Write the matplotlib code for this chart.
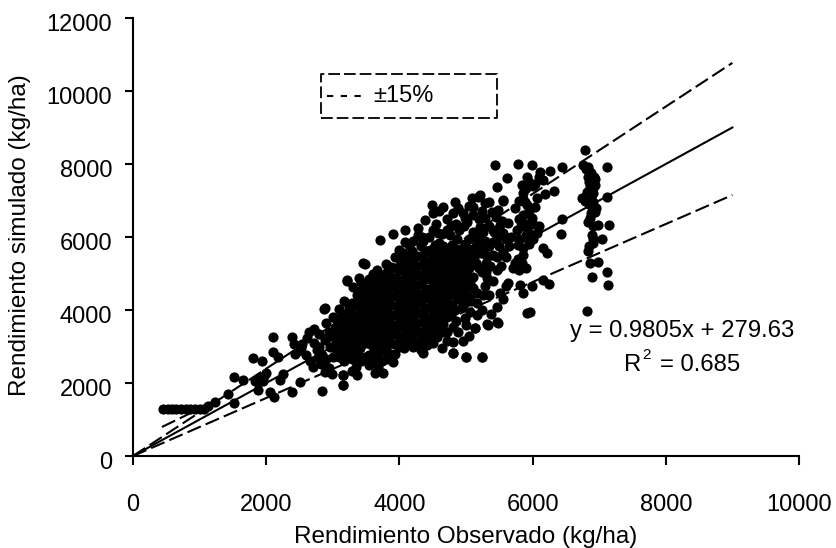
import matplotlib
matplotlib.use("Agg")
import matplotlib.pyplot as plt
from matplotlib.transforms import ScaledTranslation

plt.rcParams['font.family'] = ['Liberation Sans', 'DejaVu Sans']

LINE_X = [0, 9000]
LINE_Y = [0, 9000]
UPPER_Y = [0, 10770]
LOWER_Y = [0, 7150]
SHORT_X = [435, 960]
SHORT_Y = [795, 1260]

FLAT = [(450, 1290), (520, 1290), (590, 1290), (650, 1290), (720, 1290), (790, 1290),
        (860, 1290), (930, 1290), (1000, 1290), (1070, 1290), (1126, 1370)]

LOW = [(1231, 1480), (1426, 1700), (1516, 1450), (1516, 2160), (1651, 2080), (1802, 2680),
       (1937, 2600), (1907, 2130), (1830, 2050), (1877, 1810), (1960, 2200), (2057, 1750),
       (2117, 1620), (2102, 3260), (2102, 2850), (2177, 2700), (2387, 3260), (2420, 3080),
       (2507, 2030), (2387, 1750), (2207, 2080), (2250, 2250), (2612, 3230), (2717, 3480),
       (2837, 1780), (3153, 2220), (3153, 1950), (2868, 4030), (3483, 5260), (3213, 4790),
       (2520, 2950), (2430, 2800), (2660, 2600), (2780, 2680), (2900, 2650), (2950, 2400),
       (3010, 2700), (2880, 2300), (3150, 2900), (3290, 2330), (3350, 2450), (3400, 2700),
       (2880, 3180), (2950, 3400), (3050, 3100), (2900, 3650), (3000, 3800),
       (1880, 2020), (1950, 2060), (2000, 2280), (2470, 2880), (2540, 3060), (2760, 2900),
       (2830, 2520), (2840, 2780), (2700, 2450), (2600, 2780), (2720, 3100), (2800, 3350),
       (2650, 3400), (2960, 3000), (2990, 2250), (2800, 3000), (2930, 3250)]

EDGE = [(4483, 6877), (4833, 6968), (5208, 7151), (5558, 7014), (3708, 5918), (3908, 6083),
        (4083, 6192), (4283, 6238), (4283, 6055), (3458, 5279), (3208, 4823), (3398, 4868),
        (2883, 4047), (4383, 6466), (4508, 6649), (4658, 6831), (4083, 5873), (4508, 6192),
        (3158, 2221), (3158, 1947), (3633, 2285), (3758, 2285), (3358, 2221), (3908, 2568),
        (3133, 2814), (4558, 3271), (4808, 3134), (4633, 2951), (4808, 2814), (4993, 2723),
        (5233, 2723), (4408, 3042), (4358, 2814), (5133, 3499), (5323, 3590), (5483, 3636)]

CORE = [(3030, 2750), (3020, 3000), (3040, 3280), (3030, 3520), (3050, 3760),
        (3170, 2600), (3160, 2880), (3180, 3130), (3170, 3400), (3160, 3640), (3180, 3900),
        (3170, 4250), (3290, 2650), (3300, 2900), (3280, 3180), (3290, 3440), (3300, 3690),
        (3280, 3950), (3290, 4200), (3300, 4620), (3420, 2600), (3410, 2950), (3430, 3240),
        (3420, 3490), (3410, 3720), (3430, 4000), (3420, 4260), (3410, 4520), (3430, 4780),
        (3550, 2500), (3540, 2780), (3560, 3060), (3550, 3320), (3540, 3570), (3560, 3830),
        (3550, 4080), (3540, 4340), (3560, 4610), (3550, 4850), (3680, 2450), (3670, 2750),
        (3690, 3020), (3680, 3290), (3670, 3540), (3690, 3800), (3680, 4060), (3670, 4310),
        (3690, 4570), (3680, 4820), (3670, 5100), (3810, 2650), (3800, 2950), (3820, 3220),
        (3810, 3480), (3800, 3740), (3820, 4000), (3810, 4260), (3800, 4520), (3820, 4770),
        (3810, 5040), (3800, 5250), (3940, 2800), (3930, 3080), (3950, 3340), (3940, 3600),
        (3930, 3860), (3950, 4120), (3940, 4380), (3930, 4640), (3950, 4890), (3940, 5150),
        (3930, 5450), (4070, 2950), (4060, 3210), (4080, 3470), (4070, 3730), (4060, 3990),
        (4080, 4250), (4070, 4510), (4060, 4770), (4080, 5030), (4070, 5290), (4060, 5550),
        (4200, 3000), (4190, 3260), (4210, 3520), (4200, 3780), (4190, 4040), (4210, 4300),
        (4200, 4560), (4190, 4820), (4210, 5080), (4200, 5340), (4190, 5620), (4210, 5900),
        (4330, 3150), (4320, 3410), (4340, 3670), (4330, 3930), (4320, 4190), (4340, 4450),
        (4330, 4710), (4320, 4970), (4340, 5230), (4330, 5490), (4460, 3300), (4450, 3560),
        (4470, 3820), (4460, 4080), (4450, 4340), (4470, 4600), (4460, 4860), (4450, 5120),
        (4470, 5380), (4460, 5640), (4450, 6000), (4590, 3500), (4580, 3760), (4600, 4020),
        (4590, 4280), (4580, 4540), (4600, 4800), (4590, 5060), (4580, 5320), (4600, 5580),
        (4590, 5840), (4580, 6100), (4720, 3400), (4710, 3800), (4730, 4060), (4720, 4320),
        (4710, 4580), (4730, 4840), (4720, 5100), (4710, 5360), (4730, 5620), (4720, 6200),
        (4710, 6500), (4850, 3700), (4840, 4000), (4860, 4300), (4850, 4560), (4840, 4820),
        (4860, 5080), (4850, 5340), (4840, 5600), (4860, 5950), (4850, 6350), (4980, 4200),
        (4970, 4500), (4990, 4760), (4980, 5020), (4970, 5280), (4990, 5540), (4980, 5800),
        (4970, 6300), (5110, 4600), (5100, 4900), (5120, 5450), (5110, 5650), (5100, 6150),
        (5110, 6600)]

# second pass over the dark middle of the cloud, staggered between the first one
CORE_FILL = [(3100, 2700), (3100, 3000), (3110, 3270), (3100, 3520), (3110, 3770), (3100, 4020),
             (3230, 2780), (3240, 3050), (3230, 3310), (3240, 3560), (3230, 3820), (3240, 4080),
             (3350, 2790), (3360, 3060), (3350, 3320), (3360, 3570), (3350, 3830), (3360, 4130),
             (3360, 4400), (3480, 2700), (3490, 3100), (3480, 3370), (3490, 3610), (3480, 3870),
             (3490, 4130), (3480, 4400), (3490, 4680), (3610, 2640), (3620, 2920), (3610, 3190),
             (3620, 3440), (3610, 3700), (3620, 3950), (3610, 4210), (3620, 4470), (3610, 4730),
             (3610, 5000), (3740, 2600), (3750, 2880), (3740, 3150), (3750, 3410), (3740, 3670),
             (3750, 3930), (3740, 4190), (3750, 4440), (3740, 4700), (3750, 4950), (3870, 2800),
             (3880, 3090), (3870, 3350), (3880, 3610), (3870, 3870), (3880, 4130), (3870, 4390),
             (3880, 4650), (3870, 4900), (3880, 5180), (4000, 3000), (4010, 3270), (4000, 3530),
             (4010, 3790), (4000, 4050), (4010, 4310), (4000, 4570), (4010, 4830), (4000, 5090),
             (4010, 5360), (4130, 3090), (4140, 3340), (4130, 3600), (4140, 3860), (4130, 4120),
             (4140, 4380), (4130, 4640), (4140, 4900), (4130, 5160), (4140, 5420), (4260, 3130),
             (4270, 3390), (4260, 3650), (4270, 3910), (4260, 4170), (4270, 4430), (4260, 4690),
             (4270, 4950), (4260, 5210), (4270, 5470), (4390, 3280), (4400, 3540), (4390, 3800),
             (4400, 4060), (4390, 4320), (4400, 4580), (4390, 4840), (4400, 5100), (4390, 5360),
             (4400, 5620), (4520, 3430), (4530, 3690), (4520, 3950), (4530, 4210), (4520, 4470),
             (4530, 4730), (4520, 4990), (4530, 5250), (4520, 5510), (4530, 5770), (4650, 3620),
             (4660, 3880), (4650, 4190), (4660, 4450), (4650, 4710), (4660, 4970), (4650, 5230),
             (4660, 5490), (4650, 5750), (4780, 3850), (4790, 4150), (4780, 4440), (4790, 4700),
             (4780, 4960), (4790, 5220), (4780, 5480), (4790, 5780), (4920, 4350), (4910, 4630),
             (4920, 4900), (4910, 5160), (4920, 5420), (4910, 5680), (5040, 4350), (5050, 4620),
             (5040, 4880), (5050, 5150), (5040, 5410), (5050, 5680), (5040, 5950)]

# thinner outer parts of the cloud
OUTER = [(4000, 5650), (4150, 5780), (4320, 5750), (4340, 6000), (4550, 6350), (4600, 6700),
         (4760, 6050), (4780, 6300), (4800, 6650), (4900, 6200), (4950, 6650), (5020, 6400),
         (4640, 6080), (4350, 5900), (4880, 6800), (5040, 6850), (5190, 6500), (5240, 6700),
         (5350, 6950), (5400, 6200), (5480, 6750), (5540, 6450), (5240, 5050), (5260, 5750),
         (5360, 5200), (5410, 5850), (5520, 5200), (5600, 5450), (5680, 6000), (5650, 5750),
         (5000, 3600), (5060, 3950), (5080, 4250), (5240, 4000), (5250, 4400), (5280, 4650),
         (5350, 4400), (5400, 4800), (4880, 3400), (4720, 3150), (4950, 3150), (4650, 3400),
         (4500, 3100), (4330, 2900), (5050, 3300), (5380, 3900), (5560, 4300), (5600, 4650)]

MID = [(5059, 4732), (5085, 7070), (5100, 6820), (5134, 3500), (5159, 3865), (5159, 4184),
       (5159, 4458), (5175, 7100), (5184, 5919), (5209, 6284), (5234, 2724), (5280, 6930),
       (5284, 6512), (5300, 5500), (5309, 4869), (5319, 3609), (5384, 6695), (5459, 3682),
       (5459, 4093), (5459, 5097), (5459, 5463), (5459, 5965), (5509, 4458), (5509, 6330),
       (5300, 5050), (5350, 5750), (5420, 6150), (5500, 5750), (5560, 6100), (5250, 6150),
       (5150, 5750), (5350, 6300), (5550, 5600), (5300, 5300), (5450, 6550), (5600, 5950),
       (4984, 3774), (4984, 6512), (4994, 2724), (4934, 4093), (4809, 3545), (4809, 2815),
       (5200, 5150), (5230, 5550), (5180, 6000), (5400, 5500), (5280, 5900), (5150, 5300)]

UPPER = [(5430, 7970), (5460, 7370), (5550, 6990), (5610, 7610), (5634, 4732), (5634, 6376),
         (5734, 5280), (5734, 6786), (5759, 6193), (5775, 8000), (5784, 5782), (5809, 4686),
         (5834, 5280), (5835, 7425), (5850, 7200), (5859, 4458), (5859, 5508), (5859, 6604),
         (5909, 3929), (5909, 6878), (5910, 7645), (5934, 6147), (5959, 3956), (5984, 4659),
         (5984, 6512), (5985, 7970), (6034, 6832), (6059, 6102), (6060, 7070), (6105, 7780),
         (6150, 7560), (6159, 4823), (6159, 5691), (6180, 7180), (6209, 5554), (6249, 4705),
         (6255, 7810), (6315, 7260), (6424, 6074), (6434, 6485), (6435, 7920), (5950, 5800),
         (6000, 7400), (5800, 5950), (5800, 7000), (5880, 6950), (5950, 6700), (5800, 6500),
         (5900, 6350), (6000, 6350), (5820, 6300), (5900, 6050), (6000, 5950), (6100, 6300),
         (5850, 5700), (5780, 5400), (5900, 5150), (5700, 5150), (5800, 5100), (5860, 7050),
         (5900, 7350), (5950, 7500), (6040, 7450), (6100, 7650)]

COLUMN = [(6780, 8385), (7110, 7920), (6761, 7973), (6836, 7928), (6861, 7790), (6886, 7654),
          (6911, 7517), (6936, 7425), (6861, 7380), (6811, 7243), (6736, 7060), (6836, 7060),
          (6911, 7197), (7111, 7106), (6886, 6832), (6936, 6695), (6861, 6512), (6986, 6330),
          (7151, 6330), (6886, 6056), (7036, 5937), (6911, 5828), (6836, 5627), (6861, 5298),
          (6986, 5326), (7111, 5052), (6886, 4897), (7126, 4686), (6821, 3984),
          (6800, 7850), (6880, 7750), (6830, 7650), (6920, 7650), (6850, 7500), (6940, 7580),
          (6900, 7350), (6820, 7150), (6880, 7100), (6780, 7000), (6900, 6950), (6850, 6900),
          (6950, 6800), (6880, 6650), (6830, 6400), (6900, 6300), (6850, 5750), (6900, 5950)]

X_TICKS = [0, 2000, 4000, 6000, 8000, 10000]
Y_TICKS = [0, 2000, 4000, 6000, 8000, 10000, 12000]

fig = plt.figure(figsize=(8.36, 5.48), dpi=100)
ax = fig.add_axes([133 / 836, 1 - 456 / 548, (799 - 133) / 836, (456 - 18) / 548])

for group in [FLAT, LOW, EDGE, CORE, CORE_FILL, OUTER, MID, UPPER, COLUMN]:
    xs, ys = zip(*group)
    ax.scatter(xs, ys, s=54, color='black', linewidths=0, zorder=3, clip_on=False)

ax.plot(LINE_X, LINE_Y, color='black', lw=1.5, zorder=2)
ax.plot(LINE_X, UPPER_Y, color='black', lw=1.5, dashes=(7, 2.5), zorder=2)
ax.plot(LINE_X, LOWER_Y, color='black', lw=1.5, dashes=(7, 2.5), zorder=2)
ax.plot(SHORT_X, SHORT_Y, color='black', lw=1.5, dashes=(7, 2.5), zorder=2)

ax.set_xlim(0, 10000)
ax.set_ylim(0, 12000)
ax.set_xticks(X_TICKS)
ax.set_yticks(Y_TICKS)
ax.spines['top'].set_visible(False)
ax.spines['right'].set_visible(False)
ax.spines['left'].set_linewidth(1.5)
ax.spines['bottom'].set_linewidth(1.5)
ax.tick_params(axis='x', direction='out', length=6.5, width=1.5, labelsize=17, pad=21)
ax.tick_params(axis='y', direction='out', length=6, width=1.5, labelsize=17, pad=9)

# y tick labels sit a little below their ticks in the original
shift = ScaledTranslation(0, -3 / 72, fig.dpi_scale_trans)
for lab in ax.get_yticklabels():
    lab.set_transform(lab.get_transform() + shift)

fig.text(466 / 836, 1 - 537 / 548, 'Rendimiento Observado (kg/ha)', fontsize=17.5,
         ha='center', va='center')
fig.text(20 / 836, 1 - 235 / 548, 'Rendimiento simulado (kg/ha)', fontsize=17.5,
         rotation=90, ha='center', va='center')

# legend box drawn by hand, dashed like the original
box_x = [321 / 836, 497 / 836, 497 / 836, 321 / 836, 321 / 836]
box_y = [1 - 118 / 548, 1 - 118 / 548, 1 - 74 / 548, 1 - 74 / 548, 1 - 118 / 548]
fig.add_artist(plt.Line2D(box_x, box_y, color='black', lw=1.3, ls=(0, (6.5, 2.2))))
fig.add_artist(plt.Line2D([327 / 836, 365 / 836], [1 - 96 / 548] * 2, color='black', lw=1.5,
                          ls=(0, (3, 3.6))))
fig.text(373 / 836, 1 - 96 / 548, '±15%', fontsize=17, va='center', ha='left')

fig.text(682 / 836, 1 - 331 / 548, 'y = 0.9805x + 279.63', fontsize=17.2, ha='center', va='center')
fig.text(624 / 836, 1 - 365 / 548, 'R', fontsize=17.2, ha='left', va='center')
fig.text(642 / 836, 1 - 355 / 548, '2', fontsize=11, ha='left', va='center')
fig.text(660 / 836, 1 - 365 / 548, '= 0.685', fontsize=17.2, ha='left', va='center')

fig.savefig('out.png', dpi=100)
